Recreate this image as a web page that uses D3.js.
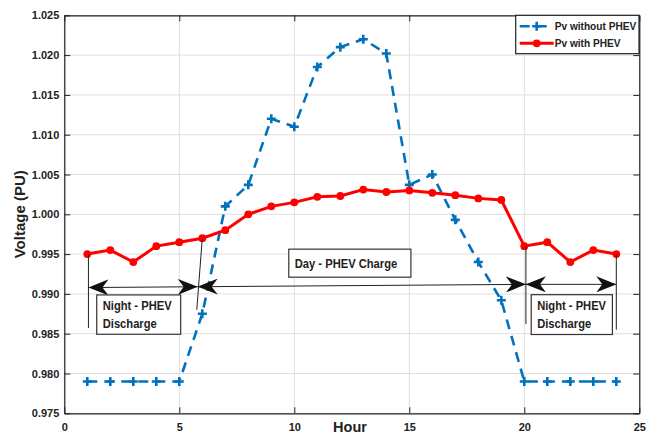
<!DOCTYPE html>
<html>
<head>
<meta charset="utf-8">
<script src="https://cdn.jsdelivr.net/npm/d3@7"></script>
<style>
  body { margin: 0; background: #fff; }
  svg text { font-family: "Liberation Sans", Arial, sans-serif; font-weight: bold; fill: #222; }
</style>
</head>
<body>
<svg id="chart"></svg>
<script>
const hours = d3.range(1, 25);
const withoutPhev = [0.979, 0.979, 0.979, 0.979, 0.979, 0.9875, 1.001, 1.0037, 1.012, 1.011, 1.0185, 1.021,
  1.022, 1.0202, 1.0037, 1.005, 0.9993, 0.994, 0.9892, 0.979, 0.979, 0.979, 0.979, 0.979];
const withPhev = [0.995, 0.9955, 0.994, 0.996, 0.9965, 0.997, 0.998, 1.000, 1.001, 1.0015, 1.0022, 1.0023,
  1.0031, 1.0028, 1.003, 1.0027, 1.0024, 1.002, 1.0018, 0.996, 0.9965, 0.994, 0.9955, 0.995];
const xTicks = [0, 5, 10, 15, 20, 25];
const yTicks = [0.975, 0.980, 0.985, 0.990, 0.995, 1.000, 1.005, 1.010, 1.015, 1.020, 1.025];

// annotation arrows (hour, voltage)
const arrows = [
  [[1.05, 0.9908], [5.8, 0.9909]],
  [[5.8, 0.9909], [20.07, 0.9912]],
  [[20.07, 0.9912], [24.0, 0.9912]]
];
const guideLines = [
  [[1.05, 0.995], [1.05, 0.9857]],
  [[6.0, 0.997], [5.76, 0.988]],
  [[20.07, 0.996], [20.07, 0.9862]],
  [[24.0, 0.995], [24.0, 0.9855]]
];
const labels = [
  { x0: 1.41, x1: 5.06, y0: 0.98987, y1: 0.98493, lines: ['Night - PHEV', 'Discharge'] },
  { x0: 9.76, x1: 15.07, y0: 0.99562, y1: 0.99210, lines: ['Day - PHEV Charge'] },
  { x0: 20.3, x1: 23.83, y0: 0.9899, y1: 0.9849, lines: ['Night - PHEV', 'Discharge'] }
];

const width = 659;
const height = 435;
const plotLeft = 64.3, plotRight = 639.3, plotTop = 15.3, plotBottom = 413.3;

const svg = d3.select('#chart').attr('width', width).attr('height', height);

const x = d3.scaleLinear().domain([0, 25]).range([plotLeft, plotRight]);
const y = d3.scaleLinear().domain([0.975, 1.025]).range([plotBottom, plotTop]);

// narrow bold text like the original figure font
function narrowText(parent, tx, ty, str, size, sx) {
  return parent.append('text')
    .attr('transform', `translate(${tx}, ${ty}) scale(${sx}, 1)`)
    .attr('dy', '0.35em')
    .attr('font-size', size)
    .text(str);
}

// grid
svg.append('g')
  .selectAll('line')
  .data(xTicks)
  .enter().append('line')
  .attr('x1', d => x(d)).attr('x2', d => x(d))
  .attr('y1', plotTop).attr('y2', plotBottom)
  .attr('stroke', '#dedede').attr('stroke-width', 1);
svg.append('g')
  .selectAll('line')
  .data(yTicks)
  .enter().append('line')
  .attr('x1', plotLeft).attr('x2', plotRight)
  .attr('y1', d => y(d)).attr('y2', d => y(d))
  .attr('stroke', '#dedede').attr('stroke-width', 1);

// axes (ticks inward, box)
const tickLen = 6;
const styleText = g => g.selectAll('text')
  .attr('font-size', 11)
  .style('font-family', '"Liberation Sans", Arial, sans-serif')
  .style('font-weight', 'bold')
  .attr('fill', '#222');
svg.append('g')
  .attr('transform', `translate(0, ${plotBottom})`)
  .call(d3.axisBottom(x).tickValues(xTicks).tickSizeInner(-tickLen).tickSizeOuter(0).tickPadding(10).tickFormat(d3.format('d')))
  .call(styleText);
svg.append('g')
  .attr('transform', `translate(0, ${plotTop})`)
  .call(d3.axisTop(x).tickValues(xTicks).tickSizeInner(-tickLen).tickSizeOuter(0).tickFormat(''));
svg.append('g')
  .attr('transform', `translate(${plotLeft}, 0)`)
  .call(d3.axisLeft(y).tickValues(yTicks).tickSizeInner(-tickLen).tickSizeOuter(0).tickPadding(5).tickFormat(d3.format('.3f')))
  .call(styleText);
svg.append('g')
  .attr('transform', `translate(${plotRight}, 0)`)
  .call(d3.axisRight(y).tickValues(yTicks).tickSizeInner(-tickLen).tickSizeOuter(0).tickFormat(''));
svg.selectAll('.domain').attr('stroke', '#222').attr('stroke-width', 1.2);
svg.selectAll('.tick line').attr('stroke', '#222');

// series
const blue = '#0072BD';
const red = '#FF0000';

const line = d3.line().x((d, i) => x(hours[i])).y(d => y(d));

svg.append('path')
  .datum(withoutPhev)
  .attr('d', line)
  .attr('fill', 'none')
  .attr('stroke', blue)
  .attr('stroke-width', 2.6)
  .attr('stroke-dasharray', '10,7');

svg.append('g')
  .selectAll('path')
  .data(withoutPhev)
  .enter().append('path')
  .attr('d', (d, i) => `M${x(hours[i]) - 4.5},${y(d)}h9M${x(hours[i])},${y(d) - 4.5}v9`)
  .attr('stroke', blue)
  .attr('stroke-width', 2.6);

svg.append('path')
  .datum(withPhev)
  .attr('d', line)
  .attr('fill', 'none')
  .attr('stroke', red)
  .attr('stroke-width', 3);

svg.append('g')
  .selectAll('circle')
  .data(withPhev)
  .enter().append('circle')
  .attr('cx', (d, i) => x(hours[i]))
  .attr('cy', d => y(d))
  .attr('r', 3.9)
  .attr('fill', red);

// annotations
svg.append('defs').append('marker')
  .attr('id', 'head')
  .attr('viewBox', '0 0 20 16')
  .attr('refX', 20).attr('refY', 8)
  .attr('markerWidth', 20).attr('markerHeight', 16)
  .attr('markerUnits', 'userSpaceOnUse')
  .attr('orient', 'auto-start-reverse')
  .append('path')
  .attr('d', 'M0,0 L20,8 L0,16 L6,8 Z')
  .attr('fill', '#111');

svg.append('g')
  .selectAll('line')
  .data(guideLines)
  .enter().append('line')
  .attr('x1', d => x(d[0][0])).attr('y1', d => y(d[0][1]))
  .attr('x2', d => x(d[1][0])).attr('y2', d => y(d[1][1]))
  .attr('stroke', '#222').attr('stroke-width', 1);

svg.append('g')
  .selectAll('line')
  .data(arrows)
  .enter().append('line')
  .attr('x1', d => x(d[0][0])).attr('y1', d => y(d[0][1]))
  .attr('x2', d => x(d[1][0])).attr('y2', d => y(d[1][1]))
  .attr('stroke', '#222').attr('stroke-width', 1)
  .attr('marker-start', 'url(#head)')
  .attr('marker-end', 'url(#head)');

const boxes = svg.append('g')
  .selectAll('g')
  .data(labels)
  .enter().append('g');
boxes.append('rect')
  .attr('x', d => x(d.x0)).attr('y', d => y(d.y0))
  .attr('width', d => x(d.x1) - x(d.x0))
  .attr('height', d => y(d.y1) - y(d.y0))
  .attr('fill', '#fff').attr('stroke', '#333').attr('stroke-width', 1.2);
boxes.each(function (d) {
  const g = d3.select(this);
  const h = y(d.y1) - y(d.y0);
  const n = d.lines.length;
  d.lines.forEach((t, i) => {
    narrowText(g, x(d.x0) + 6, y(d.y0) + h / 2 + (i - (n - 1) / 2) * 17.5, t, 13, 0.86);
  });
});

// legend
const legend = svg.append('g').attr('transform', 'translate(515.7, 15.3)');
legend.append('rect')
  .attr('width', 123.3).attr('height', 38.4)
  .attr('fill', '#fff').attr('stroke', '#222').attr('stroke-width', 1.2);
legend.append('line')
  .attr('x1', 4).attr('x2', 38).attr('y1', 11).attr('y2', 11)
  .attr('stroke', blue).attr('stroke-width', 2.6).attr('stroke-dasharray', '10,7');
legend.append('path')
  .attr('d', 'M16.5,11h9M21,6.5v9')
  .attr('stroke', blue).attr('stroke-width', 2.6);
legend.append('line')
  .attr('x1', 4).attr('x2', 38).attr('y1', 28).attr('y2', 28)
  .attr('stroke', red).attr('stroke-width', 3);
legend.append('circle')
  .attr('cx', 21).attr('cy', 28).attr('r', 3.9).attr('fill', red);
narrowText(legend, 39, 11, 'Pv without PHEV', 11.5, 0.88);
narrowText(legend, 39, 28, 'Pv with PHEV', 11.5, 0.88);

// axis titles
svg.append('text')
  .attr('x', 350).attr('y', 427)
  .attr('dy', '0.35em')
  .attr('text-anchor', 'middle')
  .attr('font-size', 14.5)
  .text('Hour');

svg.append('text')
  .attr('transform', `translate(20, ${(plotTop + plotBottom) / 2}) rotate(-90)`)
  .attr('dy', '0.35em')
  .attr('text-anchor', 'middle')
  .attr('font-size', 15)
  .text('Voltage (PU)');
</script>
</body>
</html>
